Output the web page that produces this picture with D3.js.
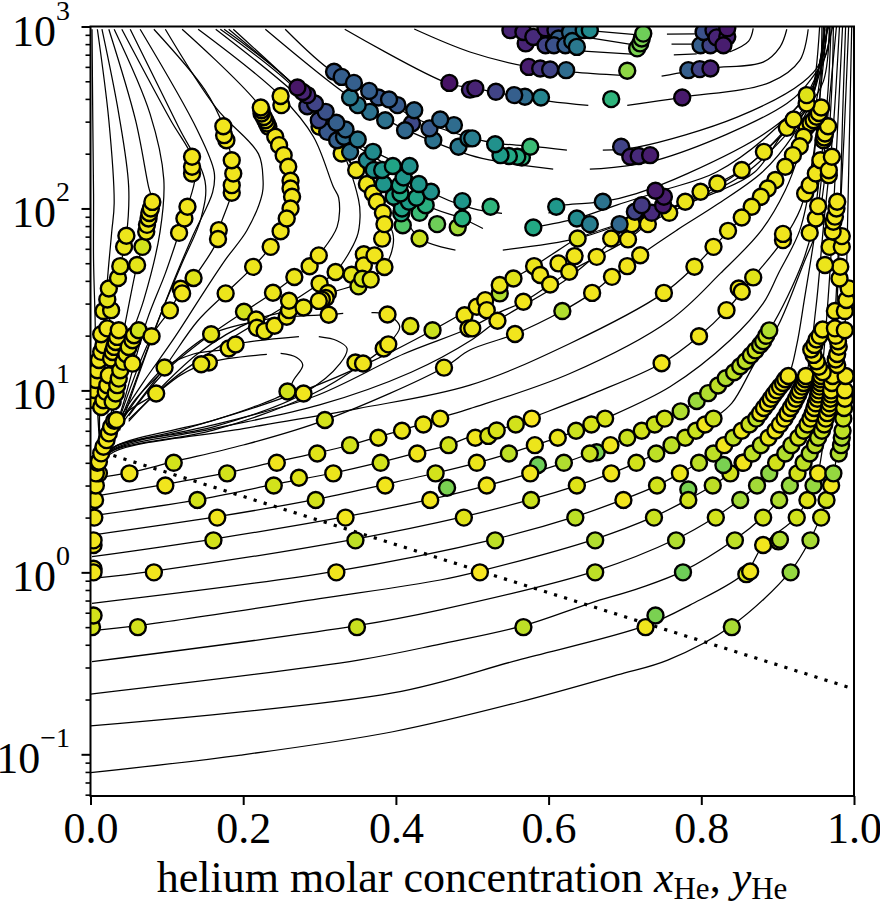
<!DOCTYPE html>
<html><head><meta charset="utf-8">
<script src="https://cdn.jsdelivr.net/npm/d3@7/dist/d3.min.js"></script>
<style>html,body{margin:0;padding:0;background:#fff}svg{display:block}text{font-family:"Liberation Serif",serif;fill:#000}</style>
</head><body><svg id="c" width="880" height="904"></svg>
<script>
// every point is [x, log10(p)] ; markers are [x, log10(p), colour value]
const xTicks=[0,.2,.4,.6,.8,1];
const yTicks=[.1,1,10,100,1000];
const yMinor=[.06,.07,.08,.09,.2,.3,.4,.5,.6,.7,.8,.9,2,3,4,5,6,7,8,9,20,30,40,50,60,70,80,90,200,300,400,500,600,700,800,900];
const dewLine=[[.03,.642],[1,-.641]];

const curvesLeft=[
[[.002,2.985],[.003,2.485],[.004,2.08],[.004,1.716],[.006,1.4],[.008,1],[.012,.7]],
[[.009,2.985],[.024,2.485],[.031,2.028],[.028,1.88],[.024,1.698],[.016,1.277],[.012,.9],[.012,.7]],
[[.015,2.985],[.037,2.52],[.05,2.12],[.047,1.85],[.039,1.683],[.027,1.441],[.02,1.22],[.013,.96],[.011,.78]],
[[.024,2.985],[.059,2.485],[.076,2.12],[.081,2.036],[.074,1.899],[.068,1.789],[.061,1.689],[.048,1.423],[.037,1.18],[.029,.93],[.024,.78]],
[[.031,2.985],[.078,2.52],[.096,2.16],[.091,1.87],[.07,1.5],[.045,1.2],[.032,.95],[.028,.8]],
[[.041,2.985],[.105,2.485],[.133,2.284],[.137,2.17],[.127,2.009],[.116,1.866],[.098,1.643],[.074,1.386],[.043,.928],[.032,.78]],
[[.052,2.985],[.115,2.45],[.15,2.15],[.145,1.95],[.12,1.7],[.09,1.4],[.05,.95],[.034,.78]],
[[.065,2.985],[.14,2.43],[.162,2.2],[.16,2.09],[.134,1.85],[.105,1.56],[.06,1.05],[.038,.78]],
[[.083,2.985],[.15,2.65],[.174,2.452],[.185,2.265],[.187,2.192],[.185,2.086],[.168,1.881],[.167,1.832],[.135,1.618],[.118,1.54],[.104,1.44],[.08,1.298],[.04,.87]],
[[.098,2.985],[.165,2.55],[.22,2.3],[.226,2.156],[.225,2.082],[.205,1.88],[.177,1.72],[.15,1.55],[.11,1.29],[.07,1.05],[.04,.86]],
[[.12,2.985],[.223,2.555],[.247,2.348],[.262,2.152],[.264,2.06],[.257,1.945],[.249,1.875],[.236,1.789],[.213,1.679],[.177,1.533],[.14,1.38],[.097,1.126],[.045,.84]],
[[.141,2.985],[.249,2.618],[.292,2.394],[.318,2.119],[.325,2.059],[.323,1.899],[.299,1.743],[.287,1.682],[.267,1.623],[.239,1.537],[.201,1.432],[.158,1.309],[.097,1.1],[.05,.86]],
[[.164,2.985],[.271,2.62],[.32,2.4],[.351,2.05],[.353,1.95],[.349,1.844],[.321,1.651],[.3,1.587],[.25,1.45],[.19,1.3],[.11,1.07],[.05,.84]],
[[.17,2.985],[.27,2.65],[.348,2.21],[.375,2.037],[.383,1.976],[.396,1.863],[.396,1.79],[.385,1.678],[.36,1.6],[.31,1.53],[.26,1.44],[.217,1.39],[.14,1.2],[.05,.83]]
];
const curvesGapped=[
[[.175,2.985],[.271,2.66],[.31,2.42],[.35,2.2],[.37,2.1],[.407,1.973],[.431,1.835],[.478,1.771]],
[[.54,1.771],[.638,1.835],[.7,1.92],[.76,2],[.82,2.09],[.87,2.2],[.912,2.443],[.94,2.56],[.96,2.7],[.968,3]],
[[.181,2.985],[.271,2.66],[.33,2.4],[.4,2.2],[.44,2.02],[.487,1.945],[.514,1.89]],
[[.58,1.895],[.637,1.945],[.69,2.02],[.75,2.1],[.82,2.2],[.9,2.45],[.95,2.7],[.972,3]],
[[.187,2.985],[.271,2.66],[.34,2.38],[.4,2.25],[.446,2.092],[.5,2],[.539,1.973]],
[[.6,1.973],[.61,2.009],[.671,2.037],[.715,2.082],[.781,2.19],[.883,2.412],[.934,2.6],[.96,2.85],[.965,3]],
[[.424,2.986],[.497,2.86],[.574,2.778],[.632,2.749],[.696,2.732]],
[[.748,2.727],[.811,2.771],[.881,2.804],[.903,2.887],[.912,2.985]],
[[.333,2.985],[.468,2.688],[.504,2.66],[.553,2.622],[.602,2.589],[.652,2.567]],
[[.703,2.567],[.775,2.611],[.89,2.693],[.929,2.814],[.94,2.985]],
[[.255,2.985],[.318,2.749],[.363,2.661],[.425,2.497],[.5,2.386],[.53,2.359],[.576,2.342],[.624,2.32]],
[[.671,2.32],[.716,2.337],[.847,2.502],[.933,2.694],[.955,2.798],[.962,2.985]],
[[.229,2.985],[.34,2.612],[.401,2.458],[.497,2.293],[.54,2.254],[.606,2.216]],
[[.654,2.216],[.742,2.266],[.912,2.577],[.946,2.723],[.964,2.853],[.968,2.985]],
[[.646,2.98],[.714,2.955]],[[.646,2.943],[.714,2.897]],[[.646,2.865],[.714,2.847]],
[[.755,2.958],[.794,2.96]],[[.761,2.903],[.794,2.903]],[[.764,2.844],[.794,2.85]],
[[.837,2.86],[.862,2.92],[.868,2.99]]
];
const curvesLoops=[
[[.01,.6],[.024,.681],[.041,.855],[.086,.983],[.118,1.084],[.155,1.154],[.231,1.198]],
[[.249,1.203],[.27,1.181],[.278,1.139],[.266,1.057],[.258,.994],[.214,.91],[.118,.782],[.031,.687],[.01,.6]],
[[.01,.6],[.024,.69],[.05,.89],[.097,1.126],[.135,1.2],[.181,1.23],[.19,1.252],[.273,1.295]],
[[.299,1.295],[.323,1.273],[.336,1.231],[.327,1.148],[.279,.983],[.161,.8],[.031,.69],[.01,.6]],
[[.01,.6],[.024,.7],[.055,.93],[.11,1.16],[.158,1.309],[.217,1.38],[.26,1.405],[.312,1.416],[.331,1.423]],
[[.368,1.427],[.389,1.417],[.405,1.35],[.39,1.255],[.357,1.148],[.292,.983],[.161,.782],[.031,.672],[.01,.6]]
];
const curvesFan=[
[[.01,.6],[.031,.69],[.161,.835],[.279,1],[.367,1.157],[.448,1.331],[.497,1.45],[.524,1.533],[.554,1.615],[.581,1.683],[.613,1.771],[.638,1.835],[.7,1.925],[.779,2.037],[.799,2.092],[.821,2.137],[.853,2.211],[.882,2.311],[.912,2.443],[.938,2.577],[.955,2.8],[.962,3]],
[[.01,.6],[.031,.68],[.161,.81],[.292,.965],[.41,1.2],[.495,1.34],[.536,1.43],[.567,1.487],[.602,1.582],[.627,1.652],[.663,1.734],[.704,1.83],[.73,1.914],[.758,1.976],[.8,2.06],[.86,2.2],[.91,2.4],[.94,2.56],[.958,2.8],[.965,3]],
[[.01,.6],[.031,.675],[.161,.79],[.3,.92],[.42,1.1],[.5,1.28],[.533,1.383],[.62,1.6],[.661,1.738],[.709,1.914],[.79,2.05],[.85,2.2],[.9,2.38],[.94,2.56],[.96,2.9],[.967,3]],
[[.002,.516],[.051,.548],[.109,.608],[.2,.7],[.307,.837],[.463,1.126],[.497,1.222],[.556,1.31],[.618,1.436],[.657,1.536],[.683,1.624],[.703,1.683],[.72,1.743],[.768,1.881],[.82,2.02],[.88,2.2],[.92,2.4],[.945,2.6],[.957,2.85],[.962,3]],
[[.01,.58],[.031,.663],[.2,.79],[.35,.9],[.497,1.029],[.628,1.258],[.751,1.536],[.791,1.68],[.816,1.789],[.835,1.872],[.853,1.95],[.866,2.009],[.878,2.064],[.897,2.156],[.91,2.229],[.92,2.293],[.934,2.394],[.945,2.5],[.955,2.7],[.958,3]]
];
const curvesLower=[
[[.002,.416],[.098,.484],[.179,.548],[.243,.608],[.297,.657],[.34,.7],[.377,.745],[.408,.782],[.436,.819],[.458,.85],[.497,.9],[.628,1.093],[.759,1.386],[.825,1.643],[.879,1.881],[.91,2.1],[.928,2.3],[.94,2.5],[.95,2.75],[.955,3]],
[[.002,.311],[.14,.398],[.24,.483],[.318,.546],[.38,.606],[.428,.657],[.469,.699],[.495,.742],[.532,.781],[.557,.815],[.578,.85],[.66,.985],[.748,1.149],[.797,1.298],[.833,1.441],[.868,1.621],[.907,1.826],[.93,2],[.945,2.25],[.955,2.6],[.96,3]],
[[.002,.205],[.166,.306],[.295,.401],[.386,.484],[.452,.546],[.506,.602],[.548,.653],[.582,.699],[.612,.74],[.636,.778],[.656,.813],[.674,.845],[.759,1.02],[.838,1.277],[.881,1.478],[.901,1.643],[.929,1.881],[.945,2.2],[.955,2.6],[.965,3]],
[[.002,.086],[.161,.183],[.334,.306],[.445,.401],[.519,.477],[.576,.544],[.62,.602],[.654,.653],[.681,.699],[.703,.74],[.722,.778],[.739,.813],[.752,.845],[.773,.885],[.794,.942],[.821,1.029],[.851,1.134],[.889,1.331],[.932,1.698],[.945,1.881],[.958,2.3],[.966,2.65],[.97,3]],
[[.002,-.033],[.083,.007],[.347,.183],[.489,.306],[.577,.401],[.637,.477],[.682,.544],[.715,.602],[.741,.653],[.761,.699],[.779,.74],[.793,.778],[.805,.813],[.816,.845],[.84,.93],[.87,1.15],[.901,1.359],[.934,1.698],[.951,1.881],[.965,2.3],[.971,2.668],[.973,3]],
[[.002,-.17],[.322,.007],[.53,.183],[.635,.306],[.698,.401],[.742,.477],[.772,.544],[.797,.602],[.816,.653],[.83,.699],[.853,.778],[.872,.845],[.891,.954],[.914,1.079],[.925,1.25],[.935,1.5],[.95,1.9],[.962,2.35],[.977,3]],
[[.002,-.32],[.062,-.293],[.3,-.145],[.458,-.042],[.51,.007],[.661,.183],[.738,.306],[.783,.401],[.815,.477],[.838,.544],[.855,.602],[.878,.699],[.897,.778],[.917,.903],[.937,1.079],[.95,1.45],[.96,1.9],[.972,2.4],[.981,3]],
[[.002,-.491],[.349,-.293],[.458,-.206],[.661,.007],[.767,.183],[.819,.306],[.851,.401],[.873,.477],[.889,.544],[.9,.602],[.918,.699],[.934,.778],[.948,.903],[.957,1.079],[.966,1.5],[.972,1.9],[.978,2.4],[.985,3]],
[[0,-.669],[.351,-.482],[.458,-.394],[.567,-.293],[.654,-.17],[.72,-.085],[.776,.007],[.844,.181],[.881,.306],[.902,.401],[.916,.484],[.926,.548],[.934,.608],[.949,.699],[.963,.845],[.972,1.079],[.978,1.5],[.982,2],[.985,2.5],[.989,3]],
[[0,-.844],[.396,-.663],[.56,-.482],[.727,-.293],[.785,-.18],[.859,.003],[.881,.15],[.925,.305],[.939,.403],[.948,.491],[.953,.546],[.961,.75],[.968,1],[.975,1.4],[.981,1.9],[.987,2.4],[.993,3]],
[[0,-1.101],[.197,-1.004],[.396,-.876],[.557,-.718],[.69,-.564],[.756,-.482],[.84,-.293],[.917,.007],[.943,.183],[.956,.305],[.964,.403],[.97,.48],[.974,.546],[.979,.727],[.984,.947],[.988,1.3],[.991,1.8],[.994,2.4],[.997,3]]
];

const rowsLow=[
[.002,-.301,.93],[.062,-.301,.93],[.349,-.301,.92],[.567,-.301,.9],[.727,-.301,.98],[.74,-.237,.8],[.84,-.301,.87],[.004,-.237,.93],
[.004,.02,.98],[.004,0,.98],[.083,0,.98],[.322,0,.98],[.51,0,.99],[.661,0,.9],[.776,0,.78],[.859,-.01,.93],[.864,.005,.98],[.917,0,.84],
[.004,.15,.98],[.004,.176,.98],[.161,.176,.93],[.347,.176,.9],[.53,.176,.9],[.661,.176,.88],[.767,.176,.88],[.844,.176,.9],[.943,.176,.87],[.881,.15,.98],[.901,.17,.88],[.903,.18,.88],
[.005,.301,.98],[.166,.301,.98],[.334,.301,.98],[.489,.301,.95],[.635,.301,.9],[.738,.301,.92],[.819,.301,.93],[.881,.301,.93],[.925,.301,.93],[.957,.301,.93],
[.006,.398,.98],[.14,.398,.93],[.295,.398,.93],[.445,.398,.98],[.577,.398,.92],[.698,.398,.98],[.783,.455,.8],[.783,.398,.93],[.851,.398,.86],[.902,.398,.88],[.939,.398,.95],[.964,.398,.93],
[.007,.477,.98],[.098,.477,.98],[.24,.477,.93],[.386,.477,.98],[.467,.465,.8],[.519,.477,.98],[.637,.477,.95],[.742,.477,.93],[.815,.477,.9],[.873,.477,.86],[.916,.477,.84],[.947,.477,.84],[.97,.477,.98],[.273,.52,.95],
[.011,.544,.98],[.051,.544,.98],[.179,.544,.93],[.318,.544,.97],[.452,.544,.93],[.586,.59,.78],[.576,.544,.98],[.682,.544,.98],[.772,.544,.97],[.838,.544,.93],[.889,.544,.83],[.926,.544,.93],[.953,.544,.98],[.973,.544,.84],
[.109,.602,.93],[.244,.602,.98],[.38,.602,.93],[.506,.602,.97],[.62,.602,.88],[.715,.602,.93],[.797,.602,.9],[.829,.59,.8],[.854,.602,.98],
[.297,.653,.95],[.428,.653,.98],[.548,.653,.9],[.663,.66,.8],[.654,.653,.92],[.741,.653,.9],[.816,.653,.9],
[.34,.699,.93],[.469,.699,.93],[.582,.699,.97],[.681,.699,.98],[.761,.699,.9],
[.377,.74,.96],[.504,.74,.98],[.521,.75,.94],[.612,.74,.97],[.703,.74,.92],[.779,.74,.92],
[.408,.778,.97],[.532,.78,.94],[.636,.778,.92],[.722,.778,.93],[.793,.778,.92],
[.436,.813,.97],[.557,.813,.93],[.656,.813,.94],[.739,.813,.92],[.805,.813,.98],
[.458,.845,.97],[.307,.837,.93],[.578,.845,.99],[.674,.845,.94],[.752,.845,.93],[.816,.845,.92]
];
const chainMid=[
[.773,.885,.88],[.794,.942,.85],[.809,.985,.88],[.822,1.027,.9],[.832,1.067,.88],[.843,1.1,.9],[.851,1.133,.9],[.858,1.16,.9],[.865,1.193,.92],[.871,1.22,.92],[.877,1.25,.9],[.881,1.27,.9],[.885,1.3,.92],[.889,1.33,.88]
];
const stackA=[[.83,.699,.98],[.842,.74,.9],[.853,.778,.97],[.863,.813,.92],[.872,.845,.9],[.877,.875,.98],[.882,.903,.98],[.887,.929,.98],[.891,.954,.98],[.895,.978,.98],[.899,1,.98],[.903,1.021,.98],[.907,1.041,.98],[.91,1.061,.98],[.914,1.079,.98]];
const stackB=[[.855,.602,.98],[.867,.653,.9],[.878,.699,.9],[.888,.74,.96],[.897,.778,.98],[.903,.813,.98],[.909,.845,.98],[.913,.875,.98],[.917,.903,.98],[.921,.929,.98],[.924,.954,.98],[.927,.978,.98],[.929,1,.98],[.932,1.021,.98],[.934,1.041,.98],[.936,1.061,.98],[.937,1.079,.98]];
const stackC=[[.898,.602,.93],[.91,.653,.88],[.918,.699,.9],[.927,.74,.93],[.934,.778,.92],[.939,.813,.95],[.943,.845,.97],[.946,.875,.98],[.948,.903,.98],[.95,.929,.98],[.952,.954,.98],[.953,.978,.98],[.954,1,.98],[.955,1.021,.98],[.956,1.041,.98],[.956,1.061,.98],[.957,1.079,.98]];
const stackD=[[.934,.602,.9],[.942,.653,.88],[.949,.699,.9],[.953,.74,.9],[.958,.778,.92],[.961,.813,.95],[.963,.845,.97],[.965,.875,.98],[.967,.903,.98],[.968,.929,.98],[.969,.954,.98],[.97,.978,.98],[.97,1,.98],[.971,1.041,.98],[.972,1.079,.98]];
const stackE=[[.98,.653,.88],[.983,.699,.88],[.984,.74,.88],[.985,.778,.9],[.986,.845,.92],[.987,.903,.95],[.988,.954,.98],[.988,1,.98],[.989,1.079,.98]];
const stackRight=[
[.959,1.1,.98],[.954,1.13,.98],[.951,1.16,.98],[.947,1.195,.98],[.944,1.225,.98],[.948,1.25,.98],[.951,1.28,.98],[.955,1.3,.98],[.959,1.335,.98],
[.978,1.14,.98],[.976,1.17,.98],[.978,1.2,.98],[.98,1.24,.98],[.979,1.27,.98],[.976,1.3,.98],
[.975,1.341,.98],[.988,1.331,.98],[.975,1.436,.98],[.988,1.436,.98],[.99,1.497,.98],[.993,1.561,.98],[.981,1.615,.98],[.982,1.68,.98],[.962,1.689,.97],[.968,1.789,.97],[.984,1.789,.98],[.984,1.848,.98],
[.942,1.866,.98],[.95,1.945,.98],[.953,2.013,.98],[.972,1.873,.98],[.973,1.927,.98],[.975,1.955,.98],[.977,2,.98],[.978,2.037,.98],
[.936,2.082,.98],[.942,2.128,.98],[.95,2.192,.98],[.956,2.265,.98],[.967,2.183,.98],[.967,2.21,.98],[.971,2.284,.98],
[.96,2.375,.98],[.961,2.39,.98],[.962,2.412,.98],[.966,2.452,.98],[.938,2.449,.98],[.943,2.47,.98],[.947,2.485,.98],[.951,2.504,.98],[.954,2.525,.98],
[.957,2.555,.98],[.938,2.577,.98],[.938,2.623,.95]
];
const leftChains=[
[.007,.544,.98],[.009,.602,.98],[.011,.608,.98],[.014,.654,.98],[.017,.69,.98],[.021,.727,.98],[.024,.764,.98],[.027,.8,.98],[.031,.833,.98],[.034,.837,.98],
[.004,.947,.98],[.005,1.002,.98],[.007,1.057,.98],[.009,1.111,.98],[.011,1.167,.98],[.014,1.212,.98],[.017,1.249,.98],[.014,1.309,.98],[.022,1.341,.98],
[.014,.909,.98],[.017,.946,.98],[.02,.992,.98],[.022,1.028,.98],[.024,1.083,.98],[.027,1.175,.98],[.029,1.211,.98],[.031,1.239,.98],[.033,1.266,.98],[.035,1.294,.98],[.037,1.331,.98],
[.029,.938,.95],[.033,.983,.95],[.035,1.029,.95],[.037,1.065,.95],[.039,1.111,.96],[.043,1.157,.96],[.047,1.199,.96],[.05,1.239,.96],[.055,1.276,.97],[.057,1.303,.97],[.063,1.331,.93],[.055,1.147,.98],
[.017,1.436,.97],[.027,1.441,.96],[.022,1.5,.96],[.024,1.56,.96],[.036,1.618,.96],[.039,1.683,.96],[.061,1.689,.96],[.044,1.789,.97],[.068,1.789,.93],[.047,1.85,.97],
[.073,1.872,.97],[.074,1.91,.97],[.076,1.945,.97],[.077,1.975,.97],[.079,2,.97],[.081,2.036,.98]
];
const fanSingles=[
[.08,1.298,.97],[.097,1.126,.96],[.086,.983,.97],[.118,1.559,.98],[.12,1.533,.98],[.135,1.618,.95],[.104,1.44,.97],[.158,1.309,.96],[.177,1.533,.97],[.213,1.679,.97],[.236,1.789,.98],[.249,1.875,.98],[.168,1.881,.98],[.167,1.832,.98],[.116,1.866,.98],[.123,1.945,.98],[.127,2.009,.98],
[.201,1.432,.93],[.217,1.39,.97],[.218,1.344,.97],[.228,1.326,.97],[.241,1.355,.98],[.257,1.405,.97],[.26,1.441,.97],[.26,1.493,.97],[.279,1.456,.97],[.239,1.537,.97],[.267,1.623,.97],[.287,1.682,.97],[.299,1.742,.98],[.321,1.651,.97],[.3,1.587,.97],[.311,1.535,.98],[.308,1.508,.98],[.303,1.499,.98],[.299,1.492,.98],[.312,1.416,.98],[.342,1.636,.96],[.351,1.572,.93],[.358,1.748,.97],[.358,1.687,.98],[.372,1.742,.98],[.356,1.614,.93],[.367,1.609,.96],[.385,1.678,.97],[.382,1.834,.98],
[.181,1.23,.97],[.19,1.252,.97],[.155,1.153,.97],[.145,1.144,.97],[.258,.994,.93],[.279,.983,.98],[.347,1.153,.97],[.357,1.148,.98],[.384,1.23,.97],[.39,1.253,.98],[.389,1.417,.98],[.419,1.354,.95],[.448,1.331,.92],[.49,1.413,.98],[.495,1.34,.98],[.463,1.125,.97],
[.5,1.341,.97],[.506,1.46,.98],[.517,1.496,.98],[.519,1.441,.98],[.536,1.533,.88],[.533,1.383,.98],[.556,1.31,.98],[.567,1.487,.98],[.536,1.579,.97],[.554,1.615,.95],[.581,1.683,.97],[.589,1.634,.98],[.602,1.582,.98],[.613,1.698,.98],[.627,1.652,.97],[.634,1.738,.98],[.663,1.734,.98],[.618,1.436,.88],[.657,1.536,.98],[.683,1.624,.98],[.703,1.683,.98],[.72,1.743,.98],[.751,1.536,.98],[.791,1.68,.97],[.816,1.789,.98],[.748,1.149,.98],[.797,1.298,.98],[.833,1.441,.98],[.849,1.56,.97],[.853,1.542,.97],[.868,1.621,.95],[.907,1.826,.98],[.907,1.86,.98],
[.638,1.835,.95],[.682,1.835,.98],[.704,1.83,.98],[.709,1.914,.98],[.73,1.914,.98]
];
const arcYellow=[
[.233,2.449,.98],[.242,2.394,.98],[.247,2.348,.98],[.253,2.293,.98],[.259,2.229,.98],[.262,2.152,.98],[.262,2.11,.98],[.264,2.064,.98],[.262,2,.98],[.257,1.945,.98],
[.231,2.467,.98],[.229,2.485,.98],[.227,2.503,.98],[.224,2.522,.98],[.224,2.54,.98],[.223,2.555,.98],[.25,2.568,.97],[.249,2.618,.98],
[.185,2.086,.98],[.185,2.128,.98],[.187,2.192,.98],[.185,2.265,.98],[.178,2.375,.98],[.175,2.403,.98],[.174,2.452,.98],[.133,2.192,.98],[.133,2.229,.98],[.133,2.284,.98],
[.3,2.449,.98],[.329,2.302,.98],[.348,2.211,.98],[.362,2.134,.98],[.37,2.082,.98],[.375,2.037,.98],[.383,1.976,.98],[.385,1.914,.98],
[.758,1.976,.97],[.779,2.037,.97],[.799,2.092,.97],[.821,2.137,.97],[.853,2.211,.97],[.882,2.311,.97],[.912,2.443,.97],[.921,2.489,.97],[.934,2.394,.97],[.929,2.342,.97],[.92,2.293,.97],[.91,2.229,.97],[.897,2.156,.97],[.887,2.11,.97],[.878,2.064,.97],[.866,2.009,.97],[.853,1.95,.97],[.835,1.877,.97]
];
const clusterGreen=[
[.431,1.835,.92],[.481,1.896,.86],[.454,1.914,.78],[.409,1.908,.73],[.431,1.976,.68],[.407,1.973,.6],[.408,2,.58],[.439,2.018,.63],[.417,2.037,.55],[.427,2.059,.58],[.397,2.064,.58],[.406,2.082,.6],[.446,2.092,.5],[.43,2.134,.52],[.405,2.128,.58],[.384,2.134,.52],[.41,2.17,.52],[.487,1.945,.63],[.487,2.04,.52],
[.362,2.265,.47],[.371,2.211,.5],[.382,2.211,.53],[.396,2.233,.58],[.418,2.233,.5],[.37,2.311,.48],
[.31,2.421,.27],[.299,2.485,.22],[.284,2.562,.2],[.34,2.311,.37],[.323,2.375,.3],[.332,2.394,.35],[.35,2.379,.4],[.334,2.434,.33],[.322,2.471,.3],[.308,2.531,.25],[.294,2.577,.2],[.284,2.623,.12],[.278,2.64,.1],[.271,2.665,.06],
[.421,2.467,.22],[.412,2.43,.33],[.386,2.485,.37],[.366,2.531,.37],[.35,2.568,.4],[.34,2.61,.4],
[.449,2.375,.37],[.444,2.44,.28],[.482,2.339,.4],[.495,2.385,.4],[.476,2.458,.35],[.458,2.489,.33],
[.319,2.751,.28],[.329,2.723,.3],[.345,2.69,.3],[.377,2.61,.27],[.365,2.646,.3],[.402,2.568,.28],[.391,2.599,.3],[.424,2.54,.33],
[.47,2.69,.05],[.497,2.653,.12],[.504,2.66,.1],[.531,2.641,.2],[.569,2.614,.35],[.555,2.623,.3],[.59,2.61,.45],[.682,2.601,.65],[.775,2.61,.07],
[.574,2.778,.08],[.589,2.769,.15],[.602,2.764,.2],[.623,2.76,.35],[.703,2.757,.83],[.783,2.76,.3],[.798,2.766,.2],[.812,2.769,.1],
[.57,2.907,.1],[.55,2.98,.1],[.567,2.97,.1],[.58,2.943,.12],[.596,2.99,.1],[.609,2.98,.2],[.596,2.897,.2],[.613,2.934,.3],[.607,2.897,.25],[.622,2.897,.3],[.628,2.97,.35],[.631,2.92,.4],[.637,2.888,.4],[.646,2.98,.45],[.654,2.98,.48],
[.716,2.88,.8],[.72,2.907,.8],[.722,2.934,.8],[.724,2.961,.78],
[.799,2.897,.3],[.812,2.897,.2],[.803,2.97,.25],[.816,2.98,.15],[.82,2.94,.1],[.834,2.943,.1],[.829,2.897,.08],[.834,2.99,.07],
[.524,2.009,.65],[.58,1.895,.6],[.61,2.009,.53],[.637,1.945,.48],[.654,1.914,.42],[.671,2.037,.38],[.693,1.914,.33],
[.565,2.28,.65],[.559,2.284,.62],[.548,2.288,.6],[.537,2.293,.55],[.53,2.353,.5],[.576,2.339,.68],[.5,2.385,.42],
[.695,2.339,.2],[.707,2.284,.1],[.718,2.288,.12],[.733,2.293,.08],
[.713,1.982,.2],[.735,1.976,.12],[.75,2.018,.07],[.722,2.018,.17],[.751,2.064,.08],[.74,2.097,.07]
];

const W=880,H=904,L=90.5,R=854,T=26.5,B=796;
const x=d3.scaleLinear().domain([0,1]).range([L,R]);
const y=d3.scaleLog().domain([.059,1000]).range([B,T]);
const svg=d3.select('#c');
svg.append('defs').append('clipPath').attr('id','ax').append('rect').attr('x',L).attr('y',T).attr('width',R-L).attr('height',B-T);
const plot=svg.append('g').attr('clip-path','url(#ax)');
const line=d3.line().x(d=>x(d[0])).y(d=>y(10**d[1])).curve(d3.curveCatmullRom.alpha(.5));
plot.append('g').selectAll('path').data([...curvesLeft,...curvesGapped,...curvesLoops,...curvesFan,...curvesLower]).join('path')
  .attr('d',line).attr('fill','none').attr('stroke','#000').attr('stroke-width',1.25);
plot.append('path').datum(dewLine).attr('d',d3.line().x(d=>x(d[0])).y(d=>y(10**d[1])))
  .attr('fill','none').attr('stroke','#000').attr('stroke-width',3.2).attr('stroke-dasharray','3.2 7.3');
plot.append('g').selectAll('circle').data([...rowsLow,...chainMid,...stackA,...stackB,...stackC,...stackD,...stackE,...stackRight,...leftChains,...fanSingles,...arcYellow,...clusterGreen]).join('circle')
  .attr('cx',d=>x(d[0])).attr('cy',d=>y(10**d[1])).attr('r',8)
  .attr('fill',d=>d3.interpolateViridis(d[2])).attr('stroke','#000').attr('stroke-width',2.4);

const ax=svg.append('g').attr('transform',`translate(0,${B})`).call(d3.axisBottom(x).tickValues(xTicks).tickFormat(d3.format('.1f')).tickSize(9));
ax.selectAll('text').attr('font-size',44).attr('y',47).attr('dy',0);
const ay=svg.append('g').attr('transform',`translate(${L},0)`).call(d3.axisLeft(y).tickValues(yTicks).tickFormat('').tickSize(9));
const ayMin=svg.append('g').attr('transform',`translate(${L},0)`).call(d3.axisLeft(y).tickValues(yMinor).tickFormat('').tickSize(5));
svg.selectAll('.domain').remove();
svg.selectAll('.tick line').attr('stroke','#000').attr('stroke-width',2);
ayMin.selectAll('.tick line').attr('stroke-width',1.6);
yTicks.forEach(v=>{
  const t=svg.append('text').attr('x',70).attr('y',y(v)+19).attr('text-anchor','end').attr('font-size',44);
  t.append('tspan').text('10');
  t.append('tspan').attr('dy',-26).attr('font-size',28).text(String(Math.round(Math.log10(v))).replace('-','\u2212'));
});
svg.append('rect').attr('x',L).attr('y',T).attr('width',R-L).attr('height',B-T).attr('fill','none').attr('stroke','#000').attr('stroke-width',2);
const lab=svg.append('text').attr('x',472).attr('y',891.5).attr('text-anchor','middle').attr('font-size',44);
lab.append('tspan').text('helium molar concentration ');
lab.append('tspan').attr('font-style','italic').text('x');
lab.append('tspan').attr('dy',7).attr('font-size',31).text('He');
lab.append('tspan').attr('dy',-7).text(', ');
lab.append('tspan').attr('font-style','italic').text('y');
lab.append('tspan').attr('dy',7).attr('font-size',31).text('He');
</script></body></html>
